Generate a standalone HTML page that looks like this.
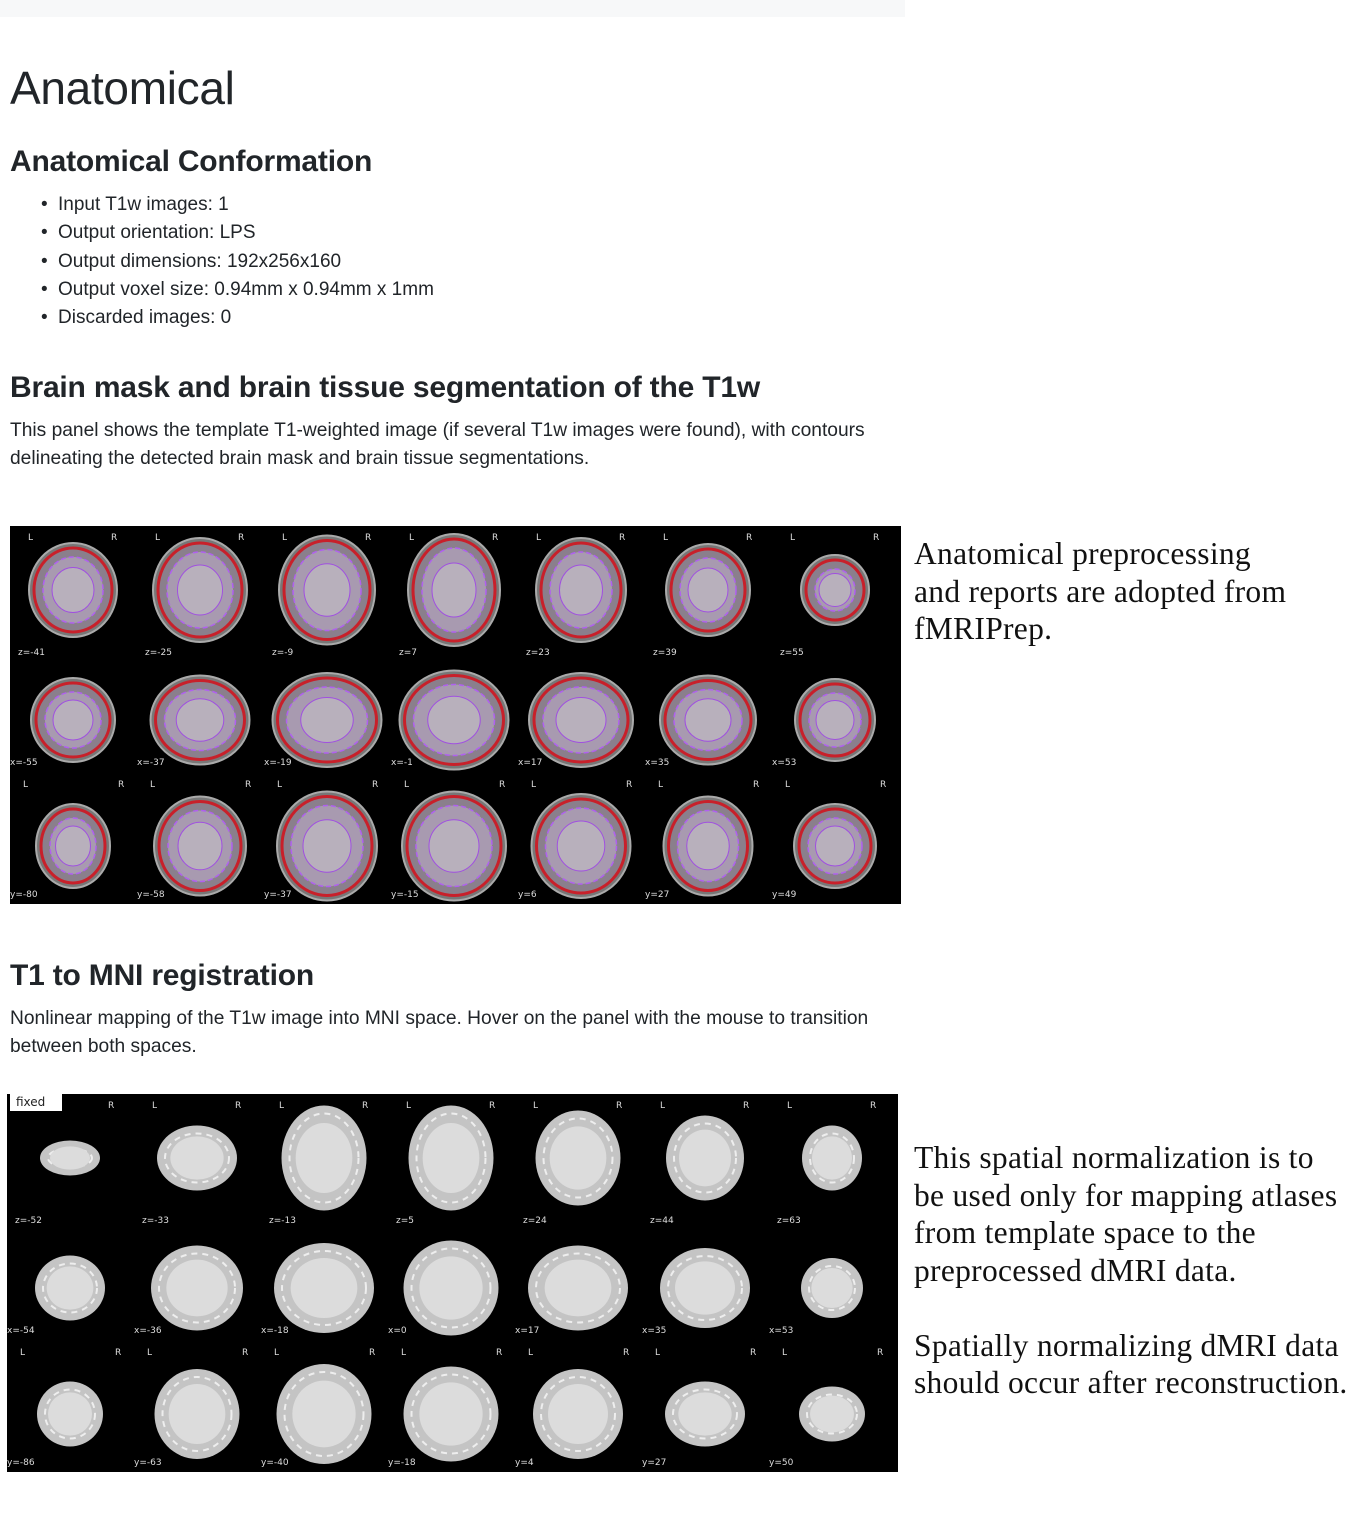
<!DOCTYPE html>
<html><head><meta charset="utf-8">
<style>
body{margin:0;width:1353px;height:1525px;background:#fff;position:relative;overflow:hidden;font-family:"Liberation Sans",sans-serif;color:#212529}
.a{position:absolute;white-space:nowrap}
h1,h2,p,ul{margin:0;font-weight:500}
.h2{font-size:30px;font-weight:bold;letter-spacing:-0.2px}
.p{font-size:19.2px;line-height:28px}
.s{font-family:"Liberation Serif",serif;font-size:31.5px;line-height:37.5px;color:#111;letter-spacing:0.3px}
ul{padding-left:0;list-style:none;font-size:19px;line-height:28.3px}
li:before{content:"•";position:absolute;left:-17px}
li{position:relative}
svg text{font-family:"DejaVu Sans",sans-serif;fill:#ddd}
</style></head><body>
<div class="a" style="left:0;top:0;width:905px;height:17px;background:#f7f8f9"></div>
<div class="a" style="left:10px;top:61px;font-size:46px;letter-spacing:-0.3px">Anatomical</div>
<div class="a h2" style="left:10px;top:145px">Anatomical Conformation</div>
<ul class="a" style="left:58px;top:191px">
<li>Input T1w images: 1</li><li>Output orientation: LPS</li><li>Output dimensions: 192x256x160</li><li>Output voxel size: 0.94mm x 0.94mm x 1mm</li><li>Discarded images: 0</li></ul>
<div class="a h2" style="left:10px;top:371px">Brain mask and brain tissue segmentation of the T1w</div>
<div class="a p" style="left:10px;top:417px">This panel shows the template T1-weighted image (if several T1w images were found), with contours<br>delineating the detected brain mask and brain tissue segmentations.</div>
<svg class="a" id="p1" style="left:10px;top:526px" width="891" height="378"></svg>
<div class="a s" style="left:914px;top:535px">Anatomical preprocessing<br>and reports are adopted from<br>fMRIPrep.</div>
<div class="a h2" style="left:10px;top:959px">T1 to MNI registration</div>
<div class="a p" style="left:10px;top:1005px">Nonlinear mapping of the T1w image into MNI space. Hover on the panel with the mouse to transition<br>between both spaces.</div>
<svg class="a" id="p2" style="left:7px;top:1094px" width="891" height="378"></svg>
<div class="a s" style="left:914px;top:1139px">This spatial normalization is to<br>be used only for mapping atlases<br>from template space to the<br>preprocessed dMRI data.<br><br>Spatially normalizing dMRI data<br>should occur after reconstruction.</div>
<script>
const labels1=[["z=-41","z=-25","z=-9","z=7","z=23","z=39","z=55"],["x=-55","x=-37","x=-19","x=-1","x=17","x=35","x=53"],["y=-80","y=-58","y=-37","y=-15","y=6","y=27","y=49"]];
const labels2=[["z=-52","z=-33","z=-13","z=5","z=24","z=44","z=63"],["x=-54","x=-36","x=-18","x=0","x=17","x=35","x=53"],["y=-86","y=-63","y=-40","y=-18","y=4","y=27","y=50"]];
const sizes1=[[[84,90],[90,100],[92,105],[88,108],[86,100],[80,88],[64,66]],[[80,80],[95,85],[105,90],[105,95],[100,90],[92,85],[76,78]],[[70,80],[88,95],[96,105],[100,105],[95,100],[85,95],[78,80]]];
const sizes2=[[[60,35],[80,65],[85,105],[85,105],[85,95],[78,85],[60,65]],[[70,65],[92,85],[100,90],[95,95],[100,85],[90,80],[62,60]],[[66,65],[85,90],[95,100],[95,95],[90,90],[80,65],[66,55]]];
const NS="http://www.w3.org/2000/svg";
function mk(t,a){const e=document.createElementNS(NS,t);for(const k in a)e.setAttribute(k,a[k]);return e;}
function draw(svg,labels,sizes,seg){
  const bg=mk('rect',{x:0,y:0,width:891,height:378,fill:'#000'});
  
  
  svg.appendChild(bg);
  const rowY=[64,194,320],lblY=[131,241,373],lrY=[14,null,261];
  for(let r=0;r<3;r++)for(let c=0;c<7;c++){
    const cx=63+127*c,cy=rowY[r],[w,h]=sizes[r][c];
    const g=mk('g',{});
    
    
    if(seg){
      g.appendChild(mk('ellipse',{cx:cx,cy:cy,rx:w/2+2,ry:h/2+2,fill:'#777',stroke:'#aaa','stroke-width':2}));
      g.appendChild(mk('ellipse',{cx:cx,cy:cy,rx:w/2-3,ry:h/2-3,fill:'#8a7f8c',stroke:'#c8202a','stroke-width':3}));
      g.appendChild(mk('ellipse',{cx:cx,cy:cy,rx:w/2-12,ry:h/2-12,fill:'#a89ab0',stroke:'#b060f0','stroke-width':1.5,'stroke-dasharray':'5 3'}));
      g.appendChild(mk('ellipse',{cx:cx,cy:cy,rx:w/4,ry:h/4,fill:'#b8b0bc',stroke:'#a050e0','stroke-width':1}));
    }else{
      g.appendChild(mk('ellipse',{cx:cx,cy:cy,rx:w/2,ry:h/2,fill:'#c4c4c4'}));
      g.appendChild(mk('ellipse',{cx:cx,cy:cy,rx:w/2-8,ry:h/2-8,fill:'none',stroke:'#eee','stroke-width':2,'stroke-dasharray':'6 5'}));
      g.appendChild(mk('ellipse',{cx:cx,cy:cy,rx:w/3,ry:h/3,fill:'#dcdcdc'}));
    }
    svg.appendChild(g);
    const t=mk('text',{x:r==0?127*c+8:127*c,y:lblY[r]-2,'font-size':9});
    t.textContent=labels[r][c];
    
    
    svg.appendChild(t);
    if(lrY[r]!==null){
      const L=mk('text',{x:127*c+(r==0?18:13),y:lrY[r],'font-size':9});L.textContent='L';
      
      
      const R=mk('text',{x:127*c+(r==0?101:108),y:lrY[r],'font-size':9});R.textContent='R';
      
      
      svg.appendChild(L);svg.appendChild(R);
    }
  }
}
draw(document.getElementById('p1'),labels1,sizes1,true);
const p2=document.getElementById('p2');
draw(p2,labels2,sizes2,false);
const fb=mk('rect',{x:3,y:0,width:52,height:17,fill:'#fff'});


p2.appendChild(fb);
const ft=mk('text',{x:9,y:12,'font-size':12,style:'fill:#222'});ft.textContent='fixed';


p2.appendChild(ft);
</script>
</body></html>
